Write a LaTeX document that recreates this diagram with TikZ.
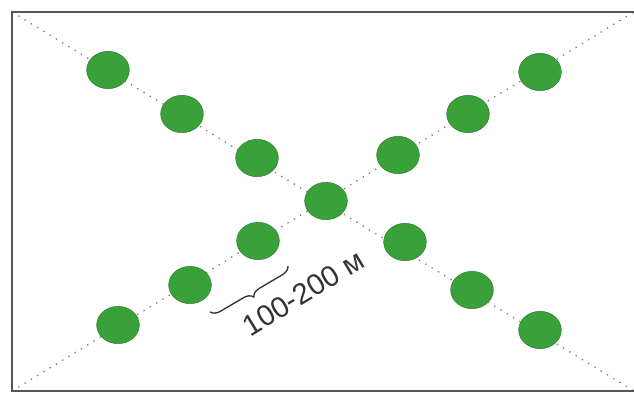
\documentclass[tikz,border=0pt]{standalone}
\usepackage{fontspec}
\setmainfont{Liberation Sans}
\usetikzlibrary{shapes.geometric, decorations.pathreplacing, calc}
\definecolor{treegreen}{RGB}{58, 160, 58}
\definecolor{framegray}{RGB}{85, 85, 85}

\begin{document}
\begin{tikzpicture}[
  x=0.75pt, y=-0.75pt,
  tree/.style={ellipse, draw=treegreen!80!black, line width=0.4pt, fill=treegreen, minimum width=32pt, minimum height=28pt, inner sep=0pt},
  guide/.style={draw=gray, line width=1pt, dash pattern=on 1pt off 4.5pt},
  frameline/.style={draw=framegray, line width=2.2pt}
]
  \useasboundingbox (0,0) rectangle (634,394);
  % corners of the plot
  \coordinate (tl) at (12,12);
  \coordinate (tr) at (634,12);
  \coordinate (bl) at (12,391);
  \coordinate (br) at (634,391);
  % diagonals
  \draw[guide] (tl) -- (br);
  \draw[guide] (bl) -- (tr);
  % frame
  \draw[frameline] (tr) -- (tl) -- (bl) -- (br);
  % trees along the first diagonal
  \foreach \x/\y [count=\i] in {108/70, 182/114, 257/158, 326/201, 405/242, 472/290, 540/330}
    \node[tree] (a\i) at (\x,\y) {};
  % trees along the second diagonal
  \foreach \x/\y [count=\i] in {118/325, 190/285, 258/241, 398/155, 468/114, 540/72}
    \node[tree] (b\i) at (\x,\y) {};
  % distance between two trees
  \coordinate (m1) at (288,266);
  \coordinate (m2) at (210,312);
  \draw[decorate, decoration={brace, amplitude=7pt}, line width=1pt, black!80] (m1) -- (m2);
  \node[rotate=31.35, font=\fontsize{22}{24}\selectfont, text=black!80, inner sep=0pt] (dist) at (303,293) {100-200 м};
\end{tikzpicture}
\end{document}
